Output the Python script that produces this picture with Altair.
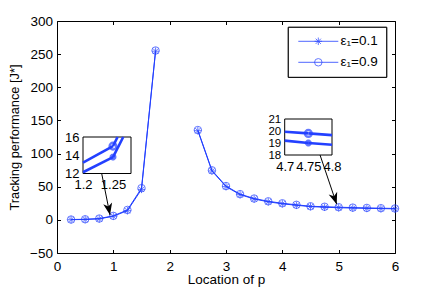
import math
import altair as alt
import pandas as pd

# ---------------- data ----------------
x_left = [0.25, 0.5, 0.75, 1.0, 1.25, 1.5, 1.75]
x_right = [2.5, 2.75, 3.0, 3.25, 3.5, 3.75, 4.0, 4.25, 4.5, 4.75, 5.0, 5.25, 5.5, 5.75, 6.0]
eps01_left = [0.3, 0.6, 1.5, 5.5, 13.8, 46.0, 254.5]
eps09_left = [0.5, 0.9, 2.0, 6.0, 15.0, 47.8, 255.5]
eps01_right = [134.5, 73.8, 50.2, 38.0, 31.5, 27.2, 24.2, 22.0, 20.0, 19.0, 18.3, 17.8, 17.3, 17.0, 16.6]
eps09_right = [135.5, 74.8, 51.0, 38.8, 32.2, 28.0, 25.0, 22.7, 20.5, 19.8, 19.1, 18.5, 18.0, 17.6, 17.2]
series_labels = ["ε₁=0.1", "ε₁=0.9"]

x_ticks = [0, 1, 2, 3, 4, 5, 6]
y_ticks = [-50, 0, 50, 100, 150, 200, 250, 300]
x_domain = [0, 6]
y_domain = [-50, 300]

inset1_x_domain = [1.2, 1.28]
inset1_y_domain = [12, 16]
inset1_x_ticks = [1.2, 1.25]
inset1_y_ticks = [12, 14, 16]
inset2_x_domain = [4.7, 4.8]
inset2_y_domain = [18, 21]
inset2_x_ticks = [4.7, 4.75, 4.8]
inset2_y_ticks = [18, 19, 20, 21]

arrow_start_x = [0.793, 4.669]
arrow_start_y = [70.0, 97.9]
arrow_end_x = [0.941, 4.965]
arrow_end_y = [7.4, 23.5]

# ---------------- layout / style ----------------
W, H = 338, 232
FONT = "Liberation Sans"
BLUE = "#2340ff"
STAR = "M0,-1L0,1M-1,0L1,0M-0.7,-0.7L0.7,0.7M-0.7,0.7L0.7,-0.7"
ARROW = "M0,0L0.38,1L0,0.72L-0.38,1Z"
shape_scale = alt.Scale(domain=series_labels, range=[STAR, "circle"])

# ---------------- build tables ----------------
rows = []
for label, left, right in [(series_labels[0], eps01_left, eps01_right),
                           (series_labels[1], eps09_left, eps09_right)]:
    for part, xs, ys in [("a", x_left, left), ("b", x_right, right)]:
        for xv, yv in zip(xs, ys):
            rows.append({"x": xv, "y": yv, "series": label, "key": label + part})
df = pd.DataFrame(rows)


def clip_seg(x0, y0, x1, y1, xmin, xmax, ymin, ymax):
    dx, dy = x1 - x0, y1 - y0
    u1, u2 = 0.0, 1.0
    for p, q in [(-dx, x0 - xmin), (dx, xmax - x0), (-dy, y0 - ymin), (dy, ymax - y0)]:
        if p == 0:
            if q < 0:
                return None
        else:
            t = q / p
            if p < 0:
                u1 = max(u1, t)
            else:
                u2 = min(u2, t)
    if u1 > u2:
        return None
    return (x0 + u1 * dx, y0 + u1 * dy, x0 + u2 * dx, y0 + u2 * dy)


def inset_tables(xd, yd):
    segs, pts = [], []
    sid = 0
    for key, g in df.groupby("key"):
        g = g.sort_values("x")
        xs, ys, s = list(g["x"]), list(g["y"]), g["series"].iloc[0]
        for i in range(len(xs) - 1):
            c = clip_seg(xs[i], ys[i], xs[i + 1], ys[i + 1], xd[0], xd[1], yd[0], yd[1])
            if c:
                segs.append({"x": c[0], "y": c[1], "series": s, "seg": sid})
                segs.append({"x": c[2], "y": c[3], "series": s, "seg": sid})
                sid += 1
        for xv, yv in zip(xs, ys):
            if xd[0] <= xv <= xd[1] and yd[0] <= yv <= yd[1]:
                pts.append({"x": xv, "y": yv, "series": s})
    return pd.DataFrame(segs), pd.DataFrame(pts)


kx, ky = W / (x_domain[1] - x_domain[0]), H / (y_domain[1] - y_domain[0])
arrows = pd.DataFrame({"sx": arrow_start_x, "sy": arrow_start_y,
                       "ex": arrow_end_x, "ey": arrow_end_y})
arrows["ang"] = [
    math.degrees(math.atan2((ex - sx) * kx, (ey - sy) * ky)) % 360
    for sx, sy, ex, ey in zip(arrow_start_x, arrow_start_y, arrow_end_x, arrow_end_y)
]

# ---------------- main layer ----------------
mx = alt.Scale(domain=x_domain, nice=False, zero=False)
my = alt.Scale(domain=y_domain, nice=False, zero=False)

main_x_axis = alt.Axis(
    orient="bottom", values=x_ticks, format="d", ticks=False, domain=False, labelFlush=False,
    labelOverlap=False, labelPadding=6, labelFontSize=13.5, title="Location of p",
    titleFontSize=13.5, titleX=169, titleY=30, titleBaseline="alphabetic", titleAlign="center")
main_y_axis = alt.Axis(
    orient="left", values=y_ticks, format="d", ticks=False, domain=False, labelFlush=False,
    labelOverlap=False, labelPadding=4.5, labelFontSize=13.5, title="Tracking performance [J*]",
    titleFontSize=12.8, titleX=-43, titleY=116, titleBaseline="middle",
    titleAlign="center", titleAngle=270)

base = alt.Chart(df)
lines = base.mark_line(color=BLUE, strokeWidth=1).encode(
    x=alt.X("x:Q", scale=mx, axis=main_x_axis), y=alt.Y("y:Q", scale=my, axis=main_y_axis),
    detail="key:N")
points = base.mark_point(filled=False, color=BLUE, size=56, strokeWidth=1).encode(
    x=alt.X("x:Q", scale=mx, axis=main_x_axis), y=alt.Y("y:Q", scale=my, axis=main_y_axis),
    shape=alt.Shape("series:N", scale=shape_scale, legend=None))
arr = alt.Chart(arrows)
arrow_lines = arr.mark_rule(color="black", strokeWidth=1).encode(
    x=alt.X("sx:Q", scale=mx, axis=main_x_axis), y=alt.Y("sy:Q", scale=my, axis=main_y_axis),
    x2="ex:Q", y2="ey:Q")
arrow_heads = arr.mark_point(shape=ARROW, filled=True, color="black", size=560,
                             strokeWidth=0, opacity=1).encode(
    x=alt.X("ex:Q", scale=mx, axis=main_x_axis), y=alt.Y("ey:Q", scale=my, axis=main_y_axis),
    angle=alt.Angle("ang:Q", scale=None))
main = alt.layer(lines, points, arrow_lines, arrow_heads)

# ---------------- inward ticks on the box ----------------
tick_style = dict(labels=False, domain=False, grid=False, tickSize=3.5, tickWidth=1,
                  tickColor="black", title=None)
frame1 = base.mark_point(opacity=0).encode(
    x=alt.X("x:Q", scale=mx, axis=alt.Axis(orient="top", offset=-H, values=x_ticks, **tick_style)),
    y=alt.Y("y:Q", scale=my, axis=alt.Axis(orient="right", offset=-W, values=y_ticks, **tick_style)))
frame2 = base.mark_point(opacity=0).encode(
    x=alt.X("x:Q", scale=mx, axis=alt.Axis(orient="bottom", offset=-H, values=x_ticks, **tick_style)),
    y=alt.Y("y:Q", scale=my, axis=alt.Axis(orient="left", offset=-W, values=y_ticks, **tick_style)))


# ---------------- insets ----------------
def make_inset(xd, yd, xt, yt, xr, yr, yfont):
    segs, pts = inset_tables(xd, yd)
    sx = alt.Scale(domain=xd, range=xr, nice=False, zero=False)
    sy = alt.Scale(domain=yd, range=yr, nice=False, zero=False)
    ax = alt.Axis(orient="bottom", offset=-(H - yr[0]), values=xt, format="~g", ticks=False,
                  domain=False, grid=False, labelFlush=False, labelOverlap=False,
                  labelPadding=5, labelFontSize=13, title=None)
    ay = alt.Axis(orient="left", offset=-xr[0], values=yt, format="d", ticks=False, domain=False,
                  grid=False, labelFlush=False, labelOverlap=False, labelPadding=4,
                  labelFontSize=yfont, title=None)
    box = alt.Chart(pd.DataFrame({"x0": [xd[0]], "x1": [xd[1]], "y0": [yd[0]], "y1": [yd[1]]})).mark_rect(
        fill="white", stroke="black", strokeWidth=1).encode(
        x=alt.X("x0:Q", scale=sx, axis=ax), x2="x1:Q",
        y=alt.Y("y0:Q", scale=sy, axis=ay), y2="y1:Q")
    ln = alt.Chart(segs).mark_line(color=BLUE, strokeWidth=2.6).encode(
        x=alt.X("x:Q", scale=sx, axis=ax), y=alt.Y("y:Q", scale=sy, axis=ay), detail="seg:N")
    pt = alt.Chart(pts).mark_point(filled=False, color=BLUE, size=46, strokeWidth=2.4).encode(
        x=alt.X("x:Q", scale=sx, axis=ax), y=alt.Y("y:Q", scale=sy, axis=ay),
        shape=alt.Shape("series:N", scale=shape_scale, legend=None))
    return alt.layer(box, ln, pt)


inset1 = make_inset(inset1_x_domain, inset1_y_domain, inset1_x_ticks, inset1_y_ticks,
                    [26, 74], [152.5, 116], 13)
inset2 = make_inset(inset2_x_domain, inset2_y_domain, inset2_x_ticks, inset2_y_ticks,
                    [227.7, 275], [134, 98], 11.5)

# ---------------- legend ----------------
leg = pd.DataFrame({"series": series_labels, "row": [0, 1]})
ly = alt.Y("row:Q", scale=alt.Scale(domain=[0, 1], range=[20.3, 41.3]), axis=None)
leg_box = alt.Chart(leg).mark_rect(fill="white", stroke="black", strokeWidth=1).encode(
    x=alt.value(231.3), x2=alt.value(329.7), y=alt.value(6.3), y2=alt.value(56.3))
leg_line = alt.Chart(leg).mark_rule(color=BLUE, strokeWidth=0.8).encode(
    x=alt.value(241.3), x2=alt.value(281.3), y=ly)
leg_pt = alt.Chart(leg).mark_point(filled=False, color=BLUE, size=56, strokeWidth=1).encode(
    x=alt.value(261.3), y=ly,
    shape=alt.Shape("series:N", scale=shape_scale, legend=None))
leg_txt = alt.Chart(leg).mark_text(align="left", baseline="middle", font=FONT, fontSize=13.5,
                                   color="black").encode(
    x=alt.value(283.5), y=ly, text="series:N")
legend = alt.layer(leg_box, leg_line, leg_pt, leg_txt)

chart = alt.layer(main, frame1, frame2, inset1, inset2, legend).resolve_scale(
    x="independent", y="independent"
).properties(
    width=W, height=H,
    autosize=alt.AutoSizeParams(type="none"),
    padding={"left": 49, "top": 13, "right": 33, "bottom": 34},
    background="white",
).configure_view(stroke="black", strokeWidth=1).configure_axis(
    labelFont=FONT, titleFont=FONT, labelColor="black", titleColor="black",
    titleFontWeight="normal", grid=False, labelOverlap=False, labelBound=False)

chart.save("out.html", embed_options={"renderer": "svg", "actions": False})
